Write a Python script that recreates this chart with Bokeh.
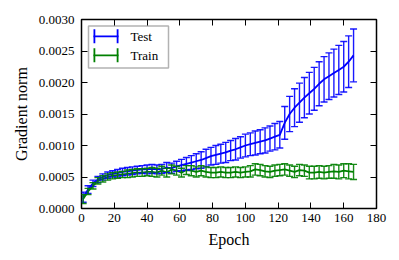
from bokeh.plotting import figure
from bokeh.models import (ColumnDataSource, Whisker, TeeHead, LinearAxis, BoxAnnotation,
                          Label, Range1d, FixedTicker, NumeralTickFormatter)
from bokeh.embed import file_html
from bokeh.resources import INLINE

epochs = [1, 4, 7, 10, 13, 16, 19, 22, 25, 28, 31, 34, 37, 40, 43, 46, 49, 52, 55, 58,
          61, 64, 67, 70, 73, 76, 79, 82, 85, 88, 91, 94, 97, 100, 103, 106, 109, 112, 115, 118,
          121, 124, 127, 130, 133, 136, 139, 142, 145, 148, 151, 154, 157, 160, 163, 166]

test_mean = [0.00018, 0.00030, 0.00040, 0.00046, 0.00050, 0.00053, 0.00055, 0.00056, 0.00058, 0.00059,
             0.00060, 0.00061, 0.00062, 0.00062, 0.00063, 0.00062, 0.00063, 0.00065, 0.00064, 0.00067,
             0.00069, 0.00071, 0.00073, 0.00075, 0.00077, 0.00080, 0.00083, 0.00085, 0.00087, 0.00089,
             0.00092, 0.00094, 0.00097, 0.00100, 0.00102, 0.00104, 0.00106, 0.00108, 0.00111, 0.00114,
             0.00117, 0.00136, 0.00150, 0.00160, 0.00168, 0.00176, 0.00183, 0.00190, 0.00198, 0.00205,
             0.00210, 0.00215, 0.00220, 0.00225, 0.00233, 0.00243]
test_err = [0.00008, 0.00006, 0.00005, 0.00005, 0.00005, 0.00005, 0.00005, 0.00006, 0.00006, 0.00006,
            0.00006, 0.00006, 0.00006, 0.00007, 0.00007, 0.00007, 0.00007, 0.00008, 0.00008, 0.00008,
            0.00009, 0.00010, 0.00011, 0.00012, 0.00013, 0.00014, 0.00014, 0.00015, 0.00015, 0.00016,
            0.00016, 0.00017, 0.00017, 0.00018, 0.00018, 0.00019, 0.00019, 0.00020, 0.00020, 0.00021,
            0.00021, 0.00026, 0.00028, 0.00030, 0.00031, 0.00032, 0.00033, 0.00034, 0.00035, 0.00036,
            0.00037, 0.00038, 0.00039, 0.00040, 0.00041, 0.00042]

train_mean = [0.00015, 0.00027, 0.00036, 0.00044, 0.00047, 0.00050, 0.00052, 0.00053, 0.00054, 0.00055,
              0.00056, 0.00057, 0.00057, 0.00058, 0.00058, 0.00057, 0.00060, 0.00057, 0.00062, 0.00060,
              0.00057, 0.00061, 0.00060, 0.00058, 0.00060, 0.00058, 0.00057, 0.00057, 0.00058, 0.00057,
              0.00057, 0.00058, 0.00057, 0.00058, 0.00059, 0.00062, 0.00061, 0.00059, 0.00058, 0.00060,
              0.00061, 0.00062, 0.00060, 0.00058, 0.00061, 0.00060, 0.00057, 0.00057, 0.00058, 0.00057,
              0.00058, 0.00059, 0.00058, 0.00060, 0.00059, 0.00058]
train_err = [0.00007, 0.00005, 0.00005, 0.00005, 0.00005, 0.00005, 0.00005, 0.00005, 0.00005, 0.00006,
             0.00006, 0.00006, 0.00006, 0.00006, 0.00007, 0.00007, 0.00007, 0.00007, 0.00007, 0.00007,
             0.00007, 0.00007, 0.00008, 0.00008, 0.00008, 0.00008, 0.00008, 0.00008, 0.00008, 0.00008,
             0.00008, 0.00008, 0.00008, 0.00008, 0.00009, 0.00009, 0.00009, 0.00009, 0.00009, 0.00009,
             0.00009, 0.00009, 0.00009, 0.00009, 0.00009, 0.00009, 0.00010, 0.00010, 0.00010, 0.00010,
             0.00010, 0.00011, 0.00011, 0.00011, 0.00012, 0.00012]

x_ticks = [0, 20, 40, 60, 80, 100, 120, 140, 160, 180]
y_ticks = [0.0, 0.0005, 0.0010, 0.0015, 0.0020, 0.0025, 0.0030]
series_labels = ["Test", "Train"]
series_colors = ["#0000ff", "#008000"]

FONT = "Liberation Serif"

p = figure(frame_width=295, frame_height=189, min_border_left=81, min_border_right=15,
           min_border_top=19, min_border_bottom=45,
           x_range=Range1d(0, 180), y_range=Range1d(0, 0.003),
           output_backend="svg", toolbar_location=None,
           background_fill_color="white", border_fill_color="white")
p.grid.visible = False
p.outline_line_color = "black"
p.outline_line_width = 1.5

for ax in (p.xaxis[0], p.yaxis[0]):
    ax.axis_line_color = None
    ax.major_tick_in = 6
    ax.major_tick_out = 0
    ax.major_tick_line_color = "black"
    ax.minor_tick_line_color = None
    ax.major_label_text_font = FONT
    ax.major_label_text_font_size = "13px"
    ax.major_label_text_color = "black"
    ax.axis_label_text_font = FONT
    ax.axis_label_text_font_size = "16px"
    ax.axis_label_text_font_style = "normal"
    ax.axis_label_text_color = "black"

p.xaxis[0].ticker = FixedTicker(ticks=x_ticks)
p.yaxis[0].ticker = FixedTicker(ticks=y_ticks)
p.yaxis[0].formatter = NumeralTickFormatter(format="0.0000")
p.xaxis[0].axis_label = "Epoch"
p.yaxis[0].axis_label = "Gradient norm"
p.xaxis[0].major_label_standoff = 5
p.yaxis[0].major_label_standoff = 7
p.xaxis[0].axis_label_standoff = 6
p.yaxis[0].axis_label_standoff = 6

top = LinearAxis(ticker=FixedTicker(ticks=x_ticks), axis_line_color=None, major_tick_in=6,
                 major_tick_out=0, minor_tick_line_color=None,
                 major_label_overrides={t: "" for t in x_ticks}, major_label_standoff=0)
right = LinearAxis(ticker=FixedTicker(ticks=y_ticks), axis_line_color=None, major_tick_in=6,
                   major_tick_out=0, minor_tick_line_color=None,
                   major_label_overrides={t: "" for t in y_ticks}, major_label_standoff=0)
p.add_layout(top, "above")
p.add_layout(right, "right")

for mean, err, color in ((test_mean, test_err, series_colors[0]),
                         (train_mean, train_err, series_colors[1])):
    src = ColumnDataSource(dict(x=epochs, y=mean,
                                upper=[m + e for m, e in zip(mean, err)],
                                lower=[m - e for m, e in zip(mean, err)]))
    p.line("x", "y", source=src, line_color=color, line_width=1.8)
    w = Whisker(base="x", upper="upper", lower="lower", source=src, dimension="height",
                line_color=color, line_width=1.4, line_alpha=0.9, level="glyph",
                upper_head=TeeHead(size=7, line_color=color, line_width=1.4, line_alpha=0.9),
                lower_head=TeeHead(size=7, line_color=color, line_width=1.4, line_alpha=0.9))
    p.add_layout(w)

# legend (screen units, measured from frame bottom-left)
p.add_layout(BoxAnnotation(left=7, right=87, top=182.5, bottom=140.5,
                           left_units="screen", right_units="screen",
                           top_units="screen", bottom_units="screen",
                           fill_color="white", fill_alpha=1, line_color="black", line_width=1.5))
row_y = [172.2, 153.2]
for label, color, cy in zip(series_labels, series_colors, row_y):
    strokes = [(12, 37, cy + 0.9, cy - 0.9), (12, 13.8, cy + 7, cy - 7), (35.2, 37, cy + 7, cy - 7)]
    for l, r, t, b in strokes:
        p.add_layout(BoxAnnotation(left=l, right=r, top=t, bottom=b,
                                   left_units="screen", right_units="screen",
                                   top_units="screen", bottom_units="screen",
                                   fill_color=color, fill_alpha=1, line_color=None))
    p.add_layout(Label(x=49, y=cy, x_units="screen", y_units="screen", text=label,
                       text_font=FONT, text_font_size="13px", text_baseline="middle",
                       text_color="black"))

open("out.html", "w").write(file_html(p, INLINE))
